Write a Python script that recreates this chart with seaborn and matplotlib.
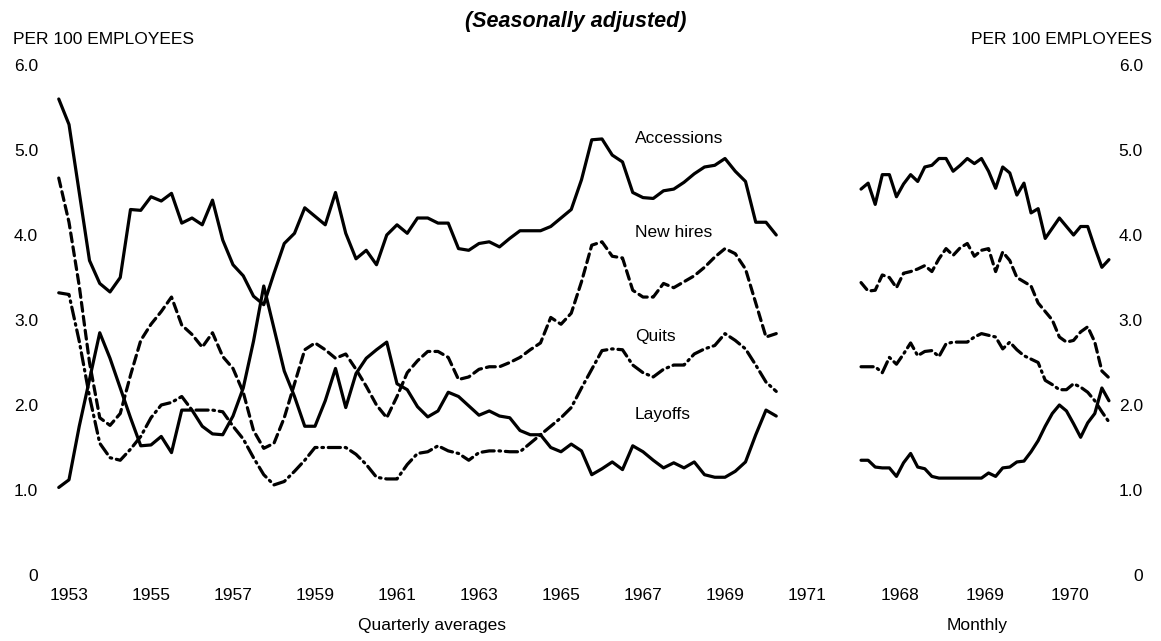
import numpy as np
import pandas as pd
import matplotlib
matplotlib.use("Agg")
import matplotlib.pyplot as plt
import seaborn as sns

# ---------------- data (per 100 employees, seasonally adjusted) ----------------
quarter_start = "1953Q1"
accessions_q = [5.6, 5.3, 4.5, 3.7, 3.43, 3.33, 3.5, 4.3, 4.29, 4.45, 4.4, 4.49, 4.14, 4.2, 4.12,
                4.41, 3.94, 3.65, 3.52, 3.28, 3.18, 3.55, 3.9, 4.02, 4.32, 4.22, 4.12, 4.5, 4.02,
                3.72, 3.82, 3.65, 4.0, 4.12, 4.02, 4.2, 4.2, 4.14, 4.14, 3.84, 3.82, 3.9, 3.92,
                3.86, 3.96, 4.05, 4.05, 4.05, 4.1, 4.2, 4.3, 4.65, 5.12, 5.13, 4.94, 4.86, 4.5,
                4.44, 4.43, 4.52, 4.54, 4.62, 4.72, 4.8, 4.82, 4.9, 4.75, 4.63, 4.15, 4.15, 4.0]
new_hires_q = [4.67, 4.15, 3.4, 2.5, 1.85, 1.76, 1.9, 2.35, 2.76, 2.95, 3.1, 3.27, 2.94, 2.83, 2.68,
               2.85, 2.57, 2.43, 2.15, 1.7, 1.49, 1.55, 1.85, 2.25, 2.65, 2.73, 2.65, 2.55, 2.6,
               2.42, 2.22, 2.0, 1.85, 2.1, 2.38, 2.52, 2.63, 2.63, 2.56, 2.3, 2.33, 2.42, 2.45,
               2.45, 2.5, 2.56, 2.65, 2.73, 3.03, 2.95, 3.08, 3.45, 3.88, 3.92, 3.75, 3.73, 3.35,
               3.27, 3.27, 3.43, 3.38, 3.45, 3.52, 3.62, 3.74, 3.84, 3.78, 3.6, 3.2, 2.8, 2.84]
quits_q = [3.32, 3.3, 2.75, 2.1, 1.55, 1.38, 1.35, 1.48, 1.63, 1.85, 2.0, 2.03, 2.1, 1.94, 1.94,
           1.94, 1.92, 1.75, 1.6, 1.38, 1.18, 1.06, 1.1, 1.22, 1.35, 1.5, 1.5, 1.5, 1.5,
           1.42, 1.3, 1.15, 1.13, 1.13, 1.3, 1.43, 1.45, 1.52, 1.46, 1.43, 1.35, 1.44, 1.46,
           1.46, 1.45, 1.45, 1.55, 1.65, 1.75, 1.85, 1.97, 2.2, 2.42, 2.64, 2.66, 2.65, 2.47,
           2.38, 2.33, 2.42, 2.47, 2.47, 2.6, 2.66, 2.7, 2.84, 2.76, 2.66, 2.47, 2.27, 2.16]
layoffs_q = [1.03, 1.12, 1.75, 2.3, 2.85, 2.55, 2.2, 1.85, 1.52, 1.53, 1.63, 1.44, 1.94, 1.94, 1.75,
             1.66, 1.65, 1.87, 2.2, 2.75, 3.4, 2.9, 2.4, 2.1, 1.75, 1.75, 2.05, 2.43, 1.97,
             2.37, 2.55, 2.65, 2.74, 2.25, 2.18, 1.98, 1.86, 1.93, 2.15, 2.1, 1.99, 1.88, 1.93,
             1.87, 1.85, 1.7, 1.65, 1.65, 1.5, 1.45, 1.54, 1.46, 1.18, 1.25, 1.33, 1.24, 1.52,
             1.45, 1.35, 1.26, 1.32, 1.26, 1.33, 1.18, 1.15, 1.15, 1.22, 1.33, 1.65, 1.94, 1.87]

month_start = "1967-07"
accessions_m = [4.54, 4.61, 4.36, 4.71, 4.71, 4.45, 4.6, 4.71, 4.63, 4.8, 4.82, 4.9, 4.9, 4.75,
                4.82, 4.9, 4.84, 4.9, 4.75, 4.55, 4.8, 4.73, 4.47, 4.61, 4.26, 4.31, 3.96, 4.08,
                4.2, 4.1, 4.0, 4.1, 4.1, 3.85, 3.62, 3.71]
new_hires_m = [3.44, 3.34, 3.35, 3.53, 3.5, 3.38, 3.55, 3.57, 3.6, 3.64, 3.57, 3.72, 3.84, 3.76,
               3.85, 3.9, 3.75, 3.82, 3.84, 3.57, 3.8, 3.7, 3.5, 3.45, 3.4, 3.2, 3.1, 3.0,
               2.8, 2.74, 2.76, 2.86, 2.92, 2.74, 2.4, 2.32]
quits_m = [2.45, 2.45, 2.45, 2.38, 2.56, 2.48, 2.6, 2.73, 2.58, 2.63, 2.64, 2.57, 2.72, 2.74,
           2.74, 2.74, 2.8, 2.84, 2.82, 2.8, 2.66, 2.74, 2.65, 2.58, 2.54, 2.5, 2.29, 2.24,
           2.18, 2.18, 2.25, 2.21, 2.15, 2.05, 1.92, 1.8]
layoffs_m = [1.35, 1.35, 1.27, 1.26, 1.26, 1.16, 1.32, 1.43, 1.27, 1.25, 1.16, 1.14, 1.14, 1.14,
             1.14, 1.14, 1.14, 1.14, 1.2, 1.16, 1.26, 1.27, 1.33, 1.34, 1.45, 1.58, 1.75, 1.9,
             2.0, 1.93, 1.78, 1.62, 1.79, 1.9, 2.2, 2.05]

series_names = ["Accessions", "New hires", "Quits", "Layoffs"]
quarter_ticks = list(range(1953, 1972, 2))
month_ticks = [1968, 1969, 1970]
y_ticks = [0, 1, 2, 3, 4, 5, 6]
y_tick_labels = ["0", "1.0", "2.0", "3.0", "4.0", "5.0", "6.0"]

# ---------------- build frames ----------------
quarters = pd.period_range(quarter_start, periods=len(accessions_q), freq="Q")
xq = np.asarray(quarters.year + (quarters.quarter - 2) / 4.0, dtype=float)
months = pd.period_range(month_start, periods=len(accessions_m), freq="M")
xm = np.asarray(months.year + (months.month - 0.5) / 12.0, dtype=float)


def long_frame(x, values):
    parts = [pd.DataFrame({"x": x, "rate": v, "series": n}) for n, v in zip(series_names, values)]
    return pd.concat(parts, ignore_index=True)


df_q = long_frame(xq, [accessions_q, new_hires_q, quits_q, layoffs_q])
df_m = long_frame(xm, [accessions_m, new_hires_m, quits_m, layoffs_m])

# ---------------- styling ----------------
sns.set_theme(style="white")
plt.rcParams["font.family"] = ["Liberation Sans", "DejaVu Sans"]
plt.rcParams["text.color"] = "black"
plt.rcParams["axes.labelcolor"] = "black"
FS = 12.5

palette = {n: "black" for n in series_names}
dash_map = {"Accessions": "", "New hires": (2.8, 1.6), "Quits": (3.8, 1.5, 0.5, 1.5), "Layoffs": ""}

W, H = 1161, 641
fig = plt.figure(figsize=(W / 100, H / 100), dpi=100)
fig.patch.set_facecolor("white")

bottom_px, top_px = 575, 65
ax_l = fig.add_axes([45 / W, (H - bottom_px) / H, (815 - 45) / W, (bottom_px - top_px) / H])
ax_r = fig.add_axes([850 / W, (H - bottom_px) / H, (1120 - 850) / W, (bottom_px - top_px) / H])

for ax, df in ((ax_l, df_q), (ax_r, df_m)):
    sns.lineplot(data=df, x="x", y="rate", hue="series", style="series",
                 palette=palette, dashes=dash_map, linewidth=2.3, legend=False,
                 estimator=None, sort=False, ax=ax)
    for line in ax.get_lines():
        line.set_solid_joinstyle("round")
        line.set_dash_capstyle("round")
        line.set_clip_on(False)
    ax.set_ylim(0, 6)
    ax.set_yticks(y_ticks)
    ax.set_yticklabels(y_tick_labels)
    ax.set_ylabel("")
    for s in ax.spines.values():
        s.set_visible(False)
    ax.set_facecolor("none")
    ax.tick_params(length=0, labelsize=FS, colors="black", labelcolor="black")
    ax.tick_params(axis="x", pad=9)

# left panel
ax_l.set_xlim(1953 + (45 - 69) / 41.0, 1953 + (815 - 69) / 41.0)
ax_l.set_xticks(quarter_ticks)
ax_l.set_xticklabels([str(t) for t in quarter_ticks])
ax_l.tick_params(axis="y", pad=5)
ax_l.set_xlabel("Quarterly averages", fontsize=FS, color="black")
ax_l.xaxis.set_label_coords((432 - 45) / 770, (575 - 618) / 510)

# right panel
ax_r.set_xlim(1968 + (850 - 900) / 85.0, 1968 + (1120 - 900) / 85.0)
ax_r.set_xticks(month_ticks)
ax_r.set_xticklabels([str(t) for t in month_ticks])
ax_r.yaxis.tick_right()
ax_r.tick_params(axis="y", pad=16.5)
for lbl in ax_r.get_yticklabels():
    lbl.set_horizontalalignment("right")
ax_r.set_xlabel("Monthly", fontsize=FS, color="black")
ax_r.xaxis.set_label_coords((977 - 850) / 270, (575 - 618) / 510)

# series labels
label_pos = {"Accessions": (1966.8, 5.13), "New hires": (1966.8, 4.03),
             "Quits": (1966.8, 2.81), "Layoffs": (1966.8, 1.89)}
for name, (lx, ly) in label_pos.items():
    ax_l.text(lx, ly, name, ha="left", va="center", fontsize=FS, color="black")

# header texts
fig.text(13 / W, 1 - 39 / H, "PER 100 EMPLOYEES", ha="left", va="center", fontsize=FS, color="black")
fig.text(1152 / W, 1 - 39 / H, "PER 100 EMPLOYEES", ha="right", va="center", fontsize=FS, color="black")
fig.text(576 / W, 1 - 22 / H, "(Seasonally adjusted)", ha="center", va="center",
         fontsize=15.5, fontweight="bold", fontstyle="italic", color="black")

fig.savefig("out.png", dpi=100, facecolor="white")
